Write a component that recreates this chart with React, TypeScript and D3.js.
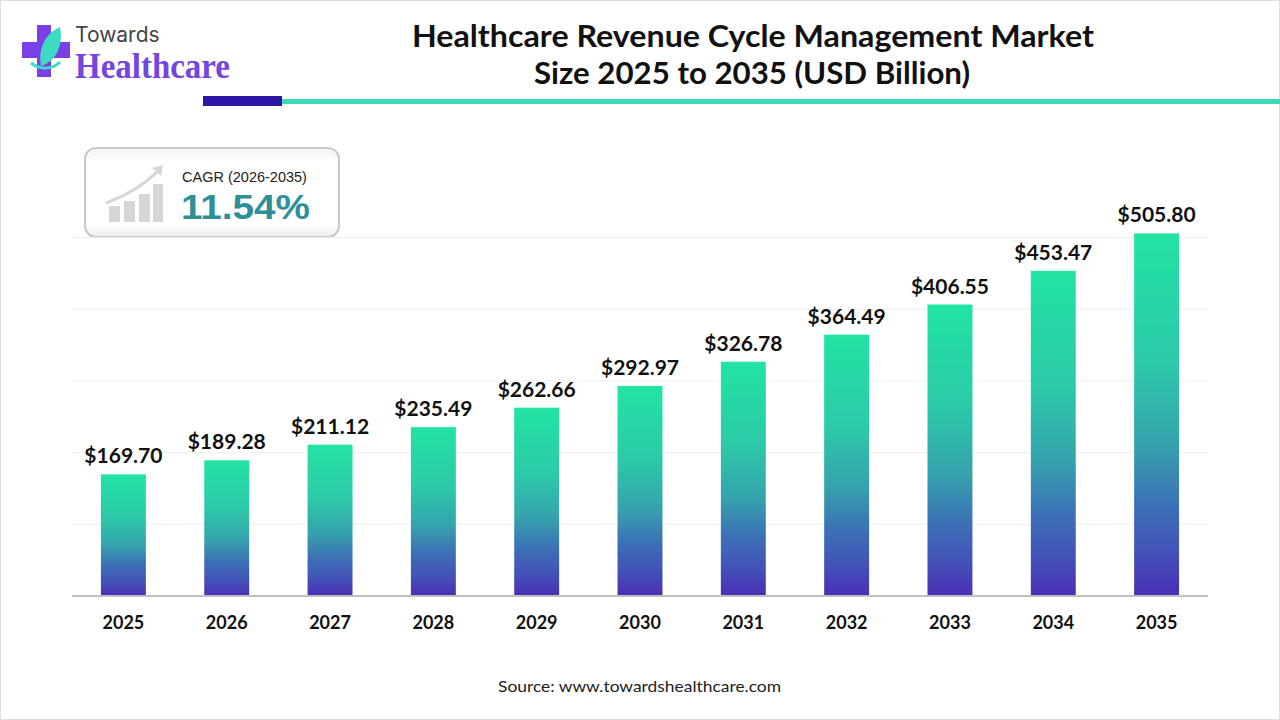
import React from 'react';
import * as d3 from 'd3';

// market size, USD billion
const years = ['2025', '2026', '2027', '2028', '2029', '2030', '2031', '2032', '2033', '2034', '2035'];
const values = [169.7, 189.28, 211.12, 235.49, 262.66, 292.97, 326.78, 364.49, 406.55, 453.47, 505.8];
const gridTicks = [100, 200, 300, 400, 500];

const W = 1280;
const H = 720;

const App: React.FC = () => {
  const x = d3.scaleBand<string>()
    .domain(years)
    .range([72, 1208])
    .paddingInner(0.565)
    .paddingOuter(0.28);

  const y = d3.scaleLinear()
    .domain([0, 600])
    .range([596, 165.8]);

  const labelFont = 'Lato, "Open Sans", sans-serif';

  return (
    <div style={{ position: 'absolute', left: 0, top: 0 }}>
      <svg width={W} height={H} viewBox={`0 0 ${W} ${H}`}>
        <defs>
          <linearGradient id="barGrad" x1="0" y1="0" x2="0" y2="1">
            <stop offset="0%" stopColor="#22e3a4" />
            <stop offset="35%" stopColor="#2ccaa8" />
            <stop offset="58%" stopColor="#35a3ad" />
            <stop offset="75%" stopColor="#3c70b6" />
            <stop offset="88%" stopColor="#4352b8" />
            <stop offset="100%" stopColor="#4a2fb6" />
          </linearGradient>
          <linearGradient id="boxGrad" x1="0" y1="0" x2="0" y2="1">
            <stop offset="0%" stopColor="#f3f3f3" />
            <stop offset="15%" stopColor="#ffffff" />
            <stop offset="85%" stopColor="#ffffff" />
            <stop offset="100%" stopColor="#ececec" />
          </linearGradient>
        </defs>

        <rect x={0.5} y={0.5} width={W - 1} height={H - 1} fill="#ffffff" stroke="#dddddd" />

        {/* logo */}
        <g>
          <rect x={37} y={25} width={14} height={52} fill="#7a3fe6" />
          <rect x={22} y={42} width={48} height={16} fill="#7a3fe6" />
          <path d="M60,27 C44,34 38,50 41,66 C54,62 64,48 60,27 Z" fill="#3ddcc0" />
          <path d="M31,63 C40,70 52,70 60,62" fill="none" stroke="#3ddcc0" strokeWidth={3} />
          <text x={75} y={42} fontFamily="Inter, 'Noto Sans', sans-serif" fontSize={21} fill="#444444">Towards</text>
          <text x={75} y={78} fontFamily="'Liberation Serif', 'DejaVu Serif', serif" fontWeight="bold" fontSize={36}
            fill="#7446e0" textLength={155} lengthAdjust="spacingAndGlyphs">Healthcare</text>
        </g>

        {/* title */}
        <text x={753} y={47} textAnchor="middle" fontFamily={labelFont} fontWeight="bold" fontSize={30}
          fill="#111111" textLength={682} lengthAdjust="spacingAndGlyphs">
          Healthcare Revenue Cycle Management Market
        </text>
        <text x={752} y={84} textAnchor="middle" fontFamily={labelFont} fontWeight="bold" fontSize={30}
          fill="#111111" textLength={436} lengthAdjust="spacingAndGlyphs">
          Size 2025 to 2035 (USD Billion)
        </text>
        <rect x={282} y={99} width={998} height={5} fill="#40d9b4" />
        <rect x={203} y={96} width={79} height={10} fill="#2b17a3" />

        {/* CAGR box */}
        <g>
          <rect x={85} y={148} width={254} height={89} rx={11} fill="url(#boxGrad)" stroke="#c9c9c9" strokeWidth={2} />
          <g fill="#d6d6d6">
            <rect x={109} y={206} width={11} height={16} />
            <rect x={124} y={201} width={11} height={21} />
            <rect x={139} y={194} width={11} height={28} />
            <rect x={153} y={184} width={10} height={38} />
          </g>
          <path d="M106,203 C125,196 143,186 158,171" fill="none" stroke="#d6d6d6" strokeWidth={3} />
          <path d="M152,168 L163,165 L161,176 Z" fill="#d6d6d6" />
          <text x={182} y={182} fontFamily="'Liberation Sans', Arial, sans-serif" fontSize={14.5} fill="#222222">
            CAGR (2026-2035)
          </text>
          <text x={181} y={219} fontFamily="'Liberation Sans', Arial, sans-serif" fontWeight="bold" fontSize={35}
            fill="#2f8f98" textLength={129} lengthAdjust="spacingAndGlyphs">11.54%</text>
        </g>

        {/* grid */}
        {gridTicks.map(t => (
          <line key={t} x1={72} x2={1208} y1={y(t)} y2={y(t)} stroke="#efefef" strokeWidth={1} />
        ))}

        {/* bars */}
        {years.map((yr, i) => (
          <rect key={yr} x={x(yr)} y={y(values[i])} width={x.bandwidth()} height={y(0) - y(values[i])}
            fill="url(#barGrad)" />
        ))}

        <line x1={72} x2={1208} y1={y(0)} y2={y(0)} stroke="#bfbfbf" strokeWidth={2} />

        {/* value labels */}
        {years.map((yr, i) => (
          <text key={yr} x={(x(yr) as number) + x.bandwidth() / 2} y={y(values[i]) - 11} textAnchor="middle"
            fontFamily={labelFont} fontWeight="bold" fontSize={21} fill="#111111">
            {'$' + values[i].toFixed(2)}
          </text>
        ))}

        {/* year labels */}
        {years.map(yr => (
          <text key={yr} x={(x(yr) as number) + x.bandwidth() / 2} y={629} textAnchor="middle"
            fontFamily={labelFont} fontWeight="bold" fontSize={18} fill="#111111">
            {yr}
          </text>
        ))}

        <text x={639.5} y={692} textAnchor="middle" fontFamily={labelFont} fontSize={16} fill="#222222"
          textLength={283} lengthAdjust="spacingAndGlyphs">
          Source: www.towardshealthcare.com
        </text>
      </svg>
    </div>
  );
};

export default App;
